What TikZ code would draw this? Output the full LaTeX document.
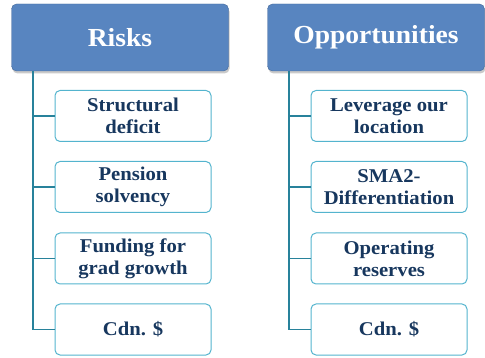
\documentclass[tikz,border=0pt]{standalone}
\usepackage{fontspec}
\setmainfont[FakeStretch=1.06]{Liberation Serif}
\usetikzlibrary{shadows}
\definecolor{headblue}{RGB}{88,133,192}
\definecolor{boxline}{RGB}{84,180,206}
\definecolor{linkteal}{RGB}{40,130,155}
\definecolor{textnavy}{RGB}{23,55,94}
\tikzset{
  header/.style={draw=headblue!80!black, line width=0.4pt, fill=headblue, rounded corners=5pt,
    minimum width=217pt, minimum height=67pt, inner sep=0pt,
    font=\fontsize{26}{29}\selectfont\bfseries, text=white,
    drop shadow={shadow xshift=1pt, shadow yshift=-2.5pt, opacity=0.35, fill=black!60}},
  item/.style={draw=boxline, line width=1pt, fill=white, rounded corners=5pt,
    minimum width=156pt, minimum height=51pt, inner sep=0pt, align=center,
    font=\fontsize{19.5}{22}\selectfont\bfseries, text=textnavy},
  link/.style={draw=linkteal, line width=1.4pt}
}
\begin{document}
\begin{tikzpicture}[x=1pt,y=-1pt]
\useasboundingbox (0,0) rectangle (485,358);
% left column
\node[header] (risks) at (120,37.5) {Risks};
\node[item] (r1) at (133,116) {Structural\\deficit};
\node[item] (r2) at (133,187) {Pension\\solvency};
\node[item] (r3) at (133,258.5) {Funding for\\grad growth};
\node[item] (r4) at (133,329.5) {Cdn. \$};
\coordinate (rs) at (33,71);
\draw[link] (rs) |- (r4.west);
\foreach \n in {r1,r2,r3} \draw[link] (rs |- \n.west) -- (\n.west);
% right column
\node[header] (opps) at (376,37.5) {Opportunities};
\node[item] (o1) at (389,116) {Leverage our\\location};
\node[item] (o2) at (389,187) {SMA2-\\Differentiation};
\node[item] (o3) at (389,258.5) {Operating\\reserves};
\node[item] (o4) at (389,329.5) {Cdn. \$};
\coordinate (os) at (289,71);
\draw[link] (os) |- (o4.west);
\foreach \n in {o1,o2,o3} \draw[link] (os |- \n.west) -- (\n.west);
\end{tikzpicture}
\end{document}
